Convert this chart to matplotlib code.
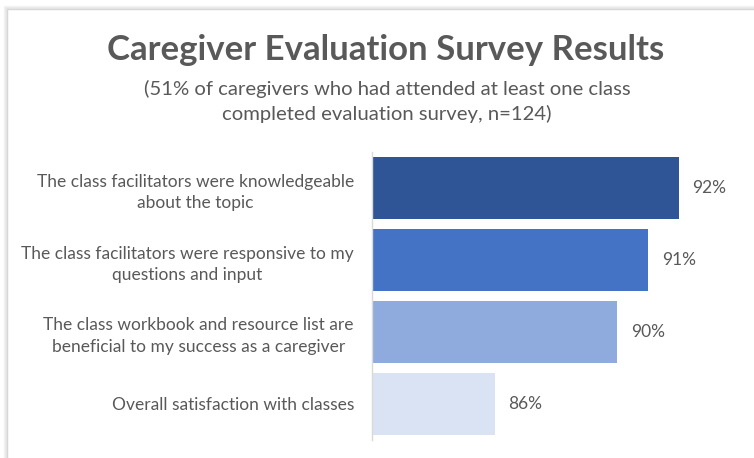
import matplotlib
matplotlib.use("Agg")
import matplotlib.pyplot as plt
from matplotlib.patches import Rectangle

# Survey items, top to bottom
items = [
    "The class facilitators were knowledgeable\nabout the topic",
    "The class facilitators were responsive to my\nquestions and input",
    "The class workbook and resource list are\nbeneficial to my success as a caregiver",
    "Overall satisfaction with classes",
]
pct = [92, 91, 90, 86]
bar_colors = ["#2F5597", "#4472C4", "#8FAADC", "#DAE3F3"]

TEXT = "#595959"
FONT = "Lato"
W, H = 754, 458

fig = plt.figure(figsize=(W / 100, H / 100), dpi=100)
fig.patch.set_facecolor("white")

# screenshot frame with a faint shadow on the left/top
for i, c in enumerate(["#f4f4f4", "#ececec", "#e4e4e4"]):
    fig.add_artist(Rectangle(((4 + i) / W, -0.1), 1.2, 1 - (6 + i) / H + 0.1,
                             transform=fig.transFigure, facecolor="none",
                             edgecolor=c, lw=1))
fig.add_artist(Rectangle((7 / W, -0.1), 1.2, 1 - 9 / H + 0.1,
                         transform=fig.transFigure, facecolor="white",
                         edgecolor="#d4d4d4", lw=1, zorder=0))

ax = fig.add_axes([372 / W, 1 - 440 / H, (740 - 372) / W, (440 - 152) / H])
ax.set_facecolor("none")

ypos = list(range(len(items)))
bars = ax.barh(ypos, pct, height=0.86, color=bar_colors, left=0)
ax.set_xlim(82, 94)
ax.set_ylim(len(items) - 0.5, -0.5)

# bars start at the truncated axis origin
for b in bars:
    b.set_x(82)
    b.set_width(b.get_width() - 82)

ax.bar_label(bars, labels=[f"{v}%" for v in pct], padding=10,
             color=TEXT, fontsize=12.5, family=FONT)

ax.set_yticks(ypos)
ax.set_yticklabels(items, fontsize=12.5, family=FONT, color=TEXT,
                   multialignment="center", linespacing=1.45)
ax.tick_params(axis="y", length=0, pad=13)
ax.set_xticks([])
for s in ["top", "right", "bottom"]:
    ax.spines[s].set_visible(False)
ax.spines["left"].set_color("#d9d9d9")
ax.spines["left"].set_linewidth(1)

fig.text(386 / W, 1 - 60 / H, "Caregiver Evaluation Survey Results",
         ha="center", va="baseline", fontsize=25, fontweight="bold",
         family=FONT, color=TEXT)
fig.text(387 / W, 1 - 101.5 / H,
         "(51% of caregivers who had attended at least one class\ncompleted evaluation survey, n=124)",
         ha="center", va="center", multialignment="center", fontsize=14.6,
         family=FONT, color=TEXT, linespacing=1.45)

fig.savefig("out.png", dpi=100)
